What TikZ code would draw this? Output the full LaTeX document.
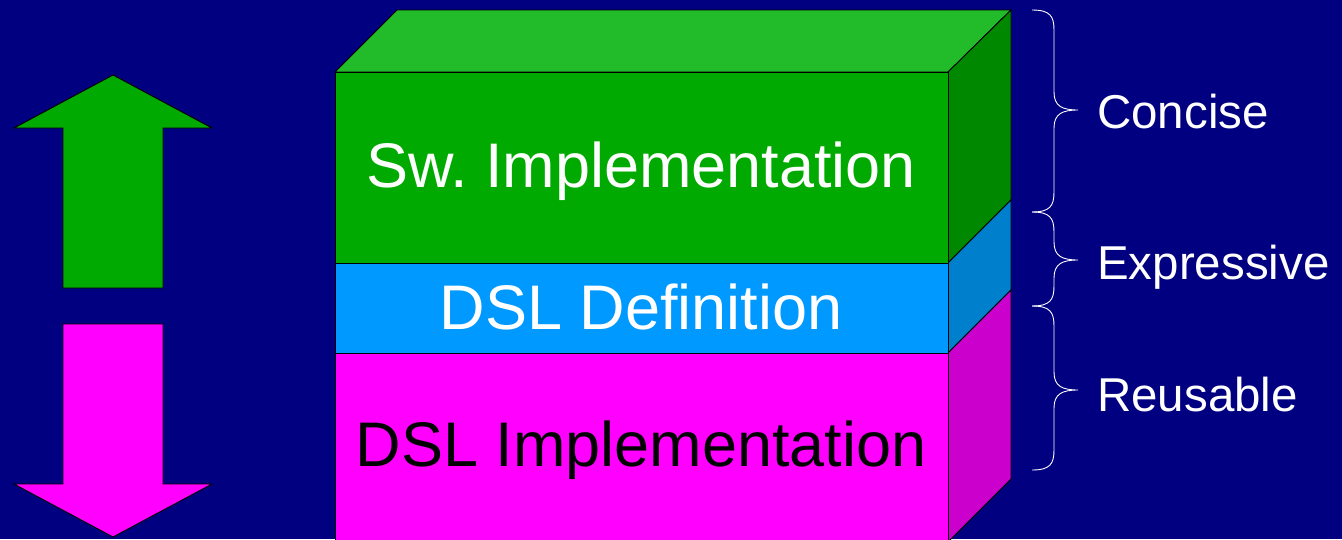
\documentclass[tikz,border=0pt]{standalone}
\usepackage{fontspec}
\setmainfont{Liberation Sans}
\frenchspacing
\definecolor{bg}{HTML}{000080}
\definecolor{gfront}{HTML}{00AA00}
\definecolor{gtop}{HTML}{22BB2A}
\definecolor{gside}{HTML}{008800}
\definecolor{bfront}{HTML}{0099FF}
\definecolor{bside}{HTML}{0080CC}
\definecolor{mfront}{HTML}{FF00FF}
\definecolor{mside}{HTML}{CC00CC}
\tikzset{
  face/.style={draw=black, line width=0.9pt, line join=miter},
  bigtext/.style={font=\fontsize{63}{70}\selectfont, inner sep=0pt, anchor=center},
  labeltext/.style={font=\fontsize{47.5}{52}\selectfont, text=white, inner sep=0pt, anchor=west},
  bracestyle/.style={draw=white, line width=0.9pt},
}
\newcommand{\mybrace}[4]{% x0, ytop, ybottom, ymid
  \draw[bracestyle] (#1,#2) .. controls (#1+18,#2) and (#1+22,#2+6) .. (#1+22,#2+20)
    -- (#1+22,#4-18) .. controls (#1+22,#4-4) and (#1+30,#4) .. (#1+46,#4)
    .. controls (#1+30,#4) and (#1+22,#4+4) .. (#1+22,#4+18)
    -- (#1+22,#3-20) .. controls (#1+22,#3-6) and (#1+18,#3) .. (#1,#3);}
\begin{document}
\begin{tikzpicture}[x=1pt,y=-1pt]
\fill[bg] (0,0) rectangle (1342,539);
\useasboundingbox (0,0) rectangle (1342,539);
% arrows
\draw[face, fill=gfront] (113,75) -- (212,128) -- (163,128) -- (163,288) -- (63,288) -- (63,128) -- (14,128) -- cycle;
\draw[face, fill=mfront] (63,324) -- (163,324) -- (163,484) -- (212,484) -- (113,537) -- (14,484) -- (63,484) -- cycle;
% box top
\draw[face, fill=gtop] (335,72) -- (397,10) -- (1011,10) -- (948,72) -- cycle;
% side faces
\draw[face, fill=gside] (948,72) -- (1011,10) -- (1011,200) -- (948,263) -- cycle;
\draw[face, fill=bside] (948,263) -- (1011,200) -- (1011,290) -- (948,353) -- cycle;
\draw[face, fill=mside] (948,353) -- (1011,290) -- (1011,479) -- (948,542) -- cycle;
% front faces
\draw[face, fill=gfront] (335,72) rectangle (948,263);
\draw[face, fill=bfront] (335,263) rectangle (948,353);
\draw[face, fill=mfront] (335,353) rectangle (948,545);
% texts
\node[bigtext, text=white] (sw) at (641,171) {Sw. Implementation};
\node[bigtext, text=white] (def) at (641,307) {DSL Definition};
\node[bigtext, text=black] (impl) at (641,450) {DSL Implementation};
% braces
\mybrace{1032}{10}{212}{110}
\mybrace{1032}{212}{306}{260}
\mybrace{1032}{306}{470}{390}
\node[labeltext] (concise) at (1097,112) {Concise};
\node[labeltext] (expr) at (1097,267) {Expressive};
\node[labeltext] (reuse) at (1097,395) {Reusable};
\end{tikzpicture}
\end{document}
